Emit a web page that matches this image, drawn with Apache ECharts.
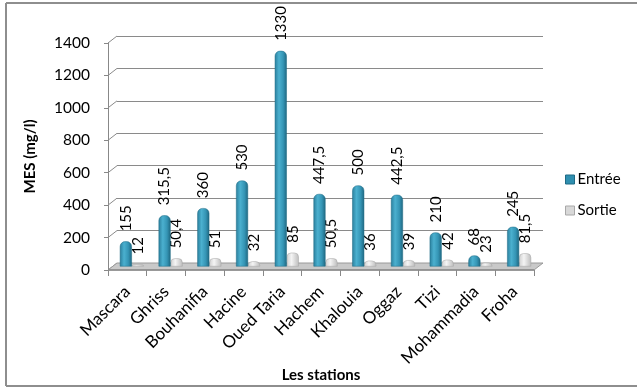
<!DOCTYPE html>
<html>
<head>
<meta charset="utf-8">
<script src="https://cdn.jsdelivr.net/npm/echarts@6/dist/echarts.min.js"></script>
<style>
  html, body { margin: 0; padding: 0; background: #fff; overflow: hidden; }
  #chart { width: 637px; height: 388px; }
</style>
</head>
<body>
<div id="chart"></div>
<script>
// Stations and suspended-matter concentrations (mg/l)
const stations = ['Mascara', 'Ghriss', 'Bouhanifia', 'Hacine', 'Oued Taria', 'Hachem',
                  'Khalouia', 'Oggaz', 'Tizi', 'Mohammadia', 'Froha'];
const entree = [155, 315.5, 360, 530, 1330, 447.5, 500, 442.5, 210, 68, 245];
const sortie = [12, 50.4, 51, 32, 85, 50.5, 36, 39, 42, 23, 81.5];
const yTicks = [0, 200, 400, 600, 800, 1000, 1200, 1400];

const FONT = 'Lato';
// pseudo-3D depth offset of the back wall (px)
const DX = 9, DY = 7;

const fmt = v => String(v).replace('.', ',');

const chart = echarts.init(document.getElementById('chart'));

const frontGrid = { left: 108, right: 103, top: 43, bottom: 118 };
const midGrid = { left: 108 + DX / 2, right: 103 - DX / 2, top: 43 - DY / 2, bottom: 118 + DY / 2 };
const backGrid = { left: 108 + DX, right: 103 - DX, top: 43 - DY, bottom: 118 + DY };
const noBounds = { containLabel: false, outerBoundsMode: 'none' };

const yBase = { type: 'value', min: 0, max: 1400, interval: 200 };

const labelCommon = {
  show: true, position: 'top', distance: 10, rotate: 90,
  align: 'left', verticalAlign: 'middle',
  fontFamily: FONT, fontSize: 15, color: '#000',
  formatter: p => fmt(p.value)
};

const frameStyle = { stroke: '#8e8e8e', lineWidth: 2 };

chart.setOption({
  animation: false,
  textStyle: { fontFamily: FONT },
  graphic: [
    { type: 'line', shape: { x1: 6, y1: 3, x2: 637, y2: 3 }, style: frameStyle, silent: true, z: -10 },
    { type: 'line', shape: { x1: 6, y1: 3, x2: 6, y2: 386 }, style: frameStyle, silent: true, z: -10 },
    { type: 'line', shape: { x1: 6, y1: 386, x2: 637, y2: 386 }, style: frameStyle, silent: true, z: -10 }
  ],
  grid: [
    Object.assign({}, frontGrid, noBounds),
    Object.assign({}, midGrid, noBounds),
    Object.assign({}, backGrid, noBounds)
  ],
  legend: {
    orient: 'vertical', left: 560, top: 167,
    itemWidth: 9, itemHeight: 9, itemGap: 16,
    textStyle: { fontFamily: FONT, fontSize: 15, color: '#000', padding: [0, 0, 0, -2] },
    data: [
      { name: 'Entrée', icon: 'rect', itemStyle: { color: '#2f8fb0', borderColor: '#1f6a85', borderWidth: 1 } },
      { name: 'Sortie', icon: 'rect', itemStyle: { color: '#d8d8d8', borderColor: '#a8a8a8', borderWidth: 1 } }
    ]
  },
  xAxis: [
    {
      gridIndex: 0, type: 'category', data: stations, boundaryGap: true,
      axisLine: { show: false },
      axisTick: { show: true, length: 6, lineStyle: { color: '#888' } },
      axisLabel: { rotate: 45, fontFamily: FONT, fontSize: 17, color: '#000', margin: 19, interval: 0 },
      name: 'Les stations', nameLocation: 'middle', nameGap: 98, nameMoveOverlap: false,
      nameTextStyle: { fontFamily: FONT, fontSize: 15, fontWeight: 'bold', color: '#000' }
    },
    { gridIndex: 1, type: 'category', data: stations, show: false },
    { gridIndex: 2, type: 'category', data: stations, show: false }
  ],
  yAxis: [
    Object.assign({}, yBase, {
      gridIndex: 0,
      axisLine: { show: true, lineStyle: { color: '#888' } },
      axisTick: { show: true, length: 4, lineStyle: { color: '#888' } },
      splitLine: { show: false },
      axisLabel: { fontFamily: FONT, fontSize: 15.5, color: '#000', margin: 18, formatter: v => String(v) },
      name: 'MES (mg/l)', nameLocation: 'middle', nameGap: 70, nameMoveOverlap: false,
      nameTextStyle: { fontFamily: FONT, fontSize: 15, fontWeight: 'bold', color: '#000' }
    }),
    Object.assign({}, yBase, { gridIndex: 1, show: false }),
    Object.assign({}, yBase, {
      gridIndex: 2,
      axisLine: { show: false }, axisTick: { show: false }, axisLabel: { show: false },
      splitLine: { show: true, lineStyle: { color: '#8a8a8a', width: 1 } }
    })
  ],
  series: [
    {
      // diagonal connectors from the front axis to the back-wall grid lines
      type: 'custom', xAxisIndex: 0, yAxisIndex: 0, z: 1, silent: true,
      data: yTicks.map(v => [0, v]),
      renderItem: (params, api) => {
        const cs = params.coordSys;
        const y = api.coord([0, api.value(1)])[1];
        return {
          type: 'line',
          shape: { x1: cs.x, y1: y, x2: cs.x + DX, y2: y - DY },
          style: { stroke: '#8a8a8a', lineWidth: 1 }
        };
      }
    },
    {
      // floor of the plot
      type: 'custom', xAxisIndex: 0, yAxisIndex: 0, z: 2, silent: true,
      data: [[0, 0]],
      renderItem: (params, api) => {
        const cs = params.coordSys;
        const y = api.coord([0, 0])[1];
        return {
          type: 'group',
          children: [{
            type: 'polygon',
            shape: { points: [[cs.x, y], [cs.x + cs.width, y], [cs.x + cs.width + DX, y - DY], [cs.x + DX, y - DY]] },
            style: { fill: '#c9c9c9', stroke: '#9a9a9a', lineWidth: 1 }
          }, {
            type: 'line',
            shape: { x1: cs.x, y1: y, x2: cs.x + cs.width, y2: y },
            style: { stroke: '#888', lineWidth: 1.5 }
          }]
        };
      }
    },
    {
      name: 'Entrée', type: 'bar', xAxisIndex: 1, yAxisIndex: 1, z: 5,
      data: entree, barWidth: 12, barGap: '0%',
      itemStyle: {
        borderRadius: [5, 5, 0, 0],
        color: new echarts.graphic.LinearGradient(0, 0, 1, 0, [
          { offset: 0, color: '#2a7f9d' },
          { offset: 0.35, color: '#4bb0cf' },
          { offset: 0.7, color: '#3595b5' },
          { offset: 1, color: '#1f6680' }
        ]),
        borderColor: '#1f6a85', borderWidth: 0.5
      },
      label: labelCommon
    },
    {
      name: 'Sortie', type: 'bar', xAxisIndex: 1, yAxisIndex: 1, z: 4,
      data: sortie, barWidth: 12,
      itemStyle: {
        borderRadius: [4, 4, 0, 0],
        color: new echarts.graphic.LinearGradient(0, 0, 1, 0, [
          { offset: 0, color: '#d0d0d0' },
          { offset: 0.4, color: '#f4f4f4' },
          { offset: 1, color: '#bdbdbd' }
        ]),
        borderColor: '#a5a5a5', borderWidth: 0.5
      },
      label: labelCommon
    }
  ]
});
</script>
</body>
</html>
